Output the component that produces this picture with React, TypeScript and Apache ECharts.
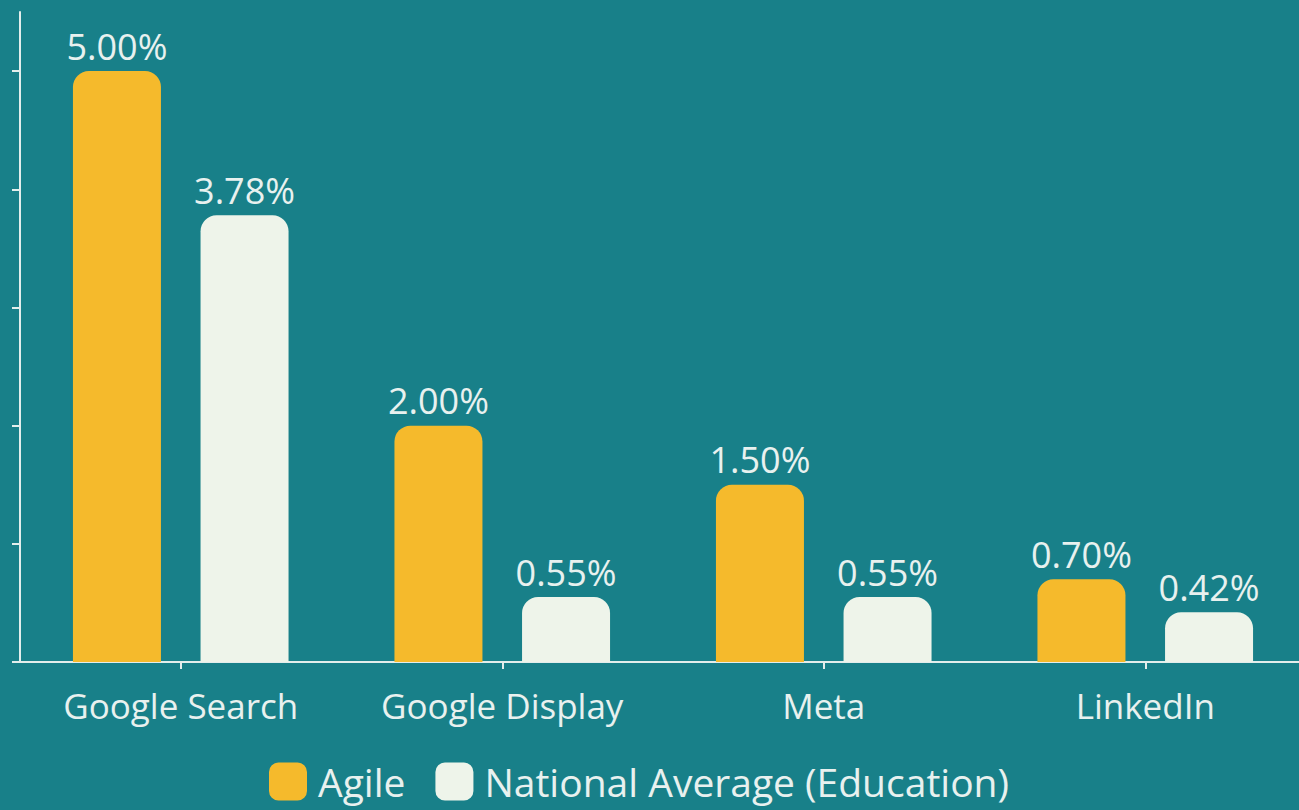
import React, { useEffect, useRef } from "react";
import * as echarts from "echarts";

const categories = ["Google Search", "Google Display", "Meta", "LinkedIn"];
const agileValues = [5.0, 2.0, 1.5, 0.7];
const nationalValues = [3.78, 0.55, 0.55, 0.42];
const yTickValues = [0, 1, 2, 3, 4, 5];
const seriesNames = ["Agile", "National Average (Education)"];

const BG = "#188089";
const YELLOW = "#F5BA2C";
const LIGHT = "#EEF4EA";
const TEXT = "#E8F1EF";
const AXIS = "#E3EEEC";

export default function App() {
  const ref = useRef<HTMLDivElement>(null);
  useEffect(() => {
    if (!ref.current) return;
    const chart = echarts.init(ref.current, undefined, { renderer: "svg" });
    const labelStyle = {
      show: true,
      position: "top" as const,
      distance: 7,
      color: TEXT,
      fontFamily: "Open Sans",
      fontSize: 36,
      formatter: (p: any) => Number(p.value).toFixed(2) + "%",
    };
    chart.setOption({
      animation: false,
      backgroundColor: BG,
      grid: { left: 20, right: 0, top: 12, bottom: 148, containLabel: false },
      legend: {
        bottom: 4,
        left: 264,
        itemWidth: 38,
        itemHeight: 38,
        itemGap: 30,
        icon: "roundRect",
        textStyle: {
          color: TEXT,
          fontFamily: "Open Sans",
          fontSize: 39,
          padding: [0, 0, 0, 6],
        },
        data: seriesNames,
      },
      xAxis: {
        type: "category",
        data: categories,
        axisLine: { show: true, lineStyle: { color: AXIS, width: 2 } },
        axisTick: { show: true, alignWithLabel: true, length: 7, lineStyle: { color: AXIS, width: 2 } },
        axisLabel: { color: TEXT, fontFamily: "Open Sans", fontSize: 35, margin: 26 },
        splitLine: { show: false },
      },
      yAxis: {
        type: "value",
        min: 0,
        max: 5.5,
        axisLine: { show: true, lineStyle: { color: AXIS, width: 2 } },
        axisTick: {
          show: true,
          length: 8,
          customValues: yTickValues,
          lineStyle: { color: AXIS, width: 2 },
        },
        axisLabel: { show: false },
        splitLine: { show: false },
      },
      series: [
        {
          name: seriesNames[0],
          type: "bar",
          data: agileValues,
          barWidth: 88,
          barGap: "45%",
          itemStyle: { color: YELLOW, borderRadius: [16, 16, 0, 0] },
          label: labelStyle,
        },
        {
          name: seriesNames[1],
          type: "bar",
          data: nationalValues,
          barWidth: 88,
          itemStyle: { color: LIGHT, borderRadius: [16, 16, 0, 0] },
          label: labelStyle,
        },
      ],
    });
    return () => chart.dispose();
  }, []);
  return (
    <div
      ref={ref}
      style={{ position: "fixed", left: 0, top: 0, width: 1306, height: 810 }}
    />
  );
}
